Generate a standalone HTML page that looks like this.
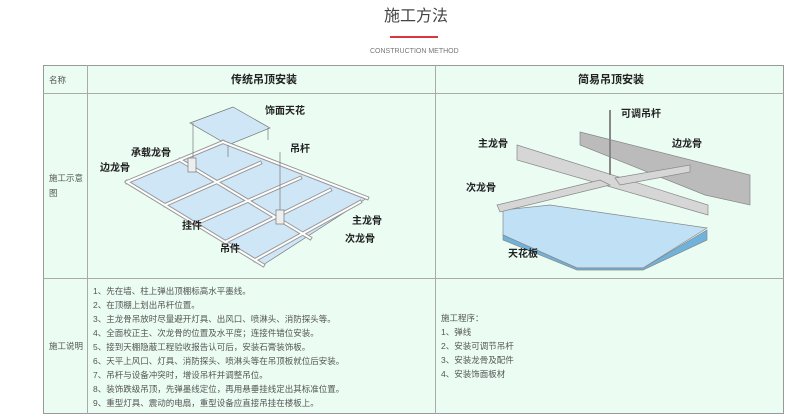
<!DOCTYPE html>
<html><head><meta charset="utf-8"><style>
body{margin:0;width:800px;height:416px;background:#fff;font-family:"Liberation Sans","Noto Sans CJK SC",sans-serif;position:relative;overflow:hidden}
.a{position:absolute;white-space:nowrap}
.t{font-size:8.5px;color:#555;line-height:14px}
</style></head><body>
<div class="a" style="left:384px;top:2px;font-size:16px;color:#444">施工方法</div>
<div class="a" style="left:390px;top:36px;width:48px;height:2px;background:#d9363e"></div>
<div class="a" style="left:370px;top:48px;font-size:7px;color:#777">CONSTRUCTION METHOD</div>
<div class="a" style="left:43px;top:65px;width:741px;height:349px;background:#ebfdf3;border:1px solid #999;box-sizing:border-box"></div>
<div class="a" style="left:43px;top:93px;width:741px;height:1px;background:#aaa"></div>
<div class="a" style="left:43px;top:278px;width:741px;height:1px;background:#aaa"></div>
<div class="a" style="left:87px;top:65px;width:1px;height:349px;background:#aaa"></div>
<div class="a" style="left:435px;top:65px;width:1px;height:349px;background:#aaa"></div>
<div class="a t" style="left:49px;top:73px">名称</div>
<div class="a" style="left:231px;top:71px;font-size:11px;font-weight:bold;color:#222">传统吊顶安装</div>
<div class="a" style="left:578px;top:71px;font-size:11px;font-weight:bold;color:#222">简易吊顶安装</div>
<div class="a t" style="left:49px;top:171px;line-height:15px">施工示意<br>图</div>
<div class="a t" style="left:49px;top:339px">施工说明</div>
<div class="a t" style="left:93px;top:284px">1、先在墙、柱上弹出顶棚标高水平墨线。<br>2、在顶棚上划出吊杆位置。<br>3、主龙骨吊放时尽量避开灯具、出风口、喷淋头、消防探头等。<br>4、全面校正主、次龙骨的位置及水平度；连接件错位安装。<br>5、接到天棚隐蔽工程验收报告认可后，安装石膏装饰板。<br>6、天平上风口、灯具、消防探头、喷淋头等在吊顶板就位后安装。<br>7、吊杆与设备冲突时，增设吊杆并调整吊位。<br>8、装饰跌级吊顶，先弹墨线定位，再用悬垂挂线定出其标准位置。<br>9、重型灯具、震动的电扇，重型设备应直接吊挂在楼板上。</div>
<div class="a t" style="left:441px;top:311px">施工程序：<br>1、弹线<br>2、安装可调节吊杆<br>3、安装龙骨及配件<br>4、安装饰面板材</div>
<svg class="a" style="left:0;top:0" width="800" height="416">
<g stroke="#777" stroke-width="0.7">
<polygon points="127,182 223,142 367,198 263,265" fill="#cfe6f7"/>
<polygon points="190,123 233,107 270,128 228,145" fill="#cfe6f7"/>
<g stroke="#999" stroke-width="4" stroke-linecap="square">
<line x1="127" y1="182" x2="223" y2="142"/><line x1="165" y1="205" x2="260" y2="163"/>
<line x1="195" y1="224" x2="300" y2="178"/><line x1="225" y1="242" x2="330" y2="190"/>
<line x1="255" y1="260" x2="360" y2="202"/>
<line x1="127" y1="182" x2="263" y2="265"/><line x1="180" y1="160" x2="310" y2="238"/>
<line x1="223" y1="142" x2="367" y2="198"/>
</g>
<g stroke="#fff" stroke-width="2" stroke-linecap="square">
<line x1="127" y1="182" x2="223" y2="142"/><line x1="165" y1="205" x2="260" y2="163"/>
<line x1="195" y1="224" x2="300" y2="178"/><line x1="225" y1="242" x2="330" y2="190"/>
<line x1="255" y1="260" x2="360" y2="202"/>
<line x1="127" y1="182" x2="263" y2="265"/><line x1="180" y1="160" x2="310" y2="238"/>
<line x1="223" y1="142" x2="367" y2="198"/>
</g>
<line x1="193" y1="123" x2="193" y2="160"/><line x1="268" y1="128" x2="268" y2="140"/><line x1="228" y1="145" x2="228" y2="157"/><line x1="280" y1="152" x2="280" y2="212"/>
<rect x="188" y="158" width="8" height="14" fill="#eee"/><rect x="276" y="210" width="8" height="14" fill="#eee"/>
</g>
<g stroke="#888" stroke-width="0.7" fill="#bbb">
<polygon points="580,132 750,175 750,205 705,195 580,145"/>
<polygon points="503,210 550,205 707,228 643,268 577,268 503,235" fill="#bfe0f5"/>
<polygon points="503,235 577,268 643,268 707,230 707,240 643,270 577,270 503,240" fill="#6fb3dc"/>
<polygon points="517,145 708,205 708,215 517,160" fill="#d6d6d6"/>
<polygon points="497,205 600,180 610,185 500,212" fill="#d6d6d6"/>
<polygon points="615,178 690,165 690,172 620,185" fill="#d6d6d6"/>
<line x1="610" y1="110" x2="610" y2="175" stroke-width="2"/>
</g>
<g font-size="10" fill="#222" font-weight="bold">
<text x="265" y="114">饰面天花</text><text x="131" y="156">承载龙骨</text><text x="100" y="171">边龙骨</text>
<text x="290" y="152">吊杆</text><text x="182" y="229">挂件</text><text x="220" y="252">吊件</text>
<text x="352" y="224">主龙骨</text><text x="345" y="242">次龙骨</text>
<text x="621" y="117">可调吊杆</text><text x="478" y="147">主龙骨</text><text x="672" y="147">边龙骨</text>
<text x="466" y="191">次龙骨</text><text x="508" y="257">天花板</text>
</g>
</svg>
</body></html>
